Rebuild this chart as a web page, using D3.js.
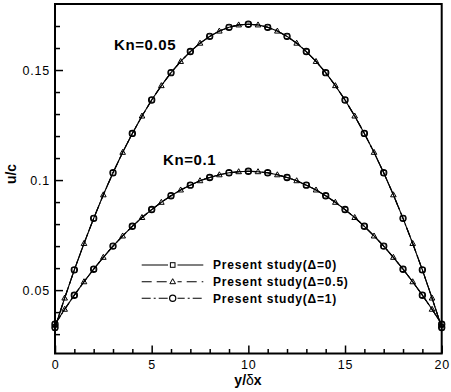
<!DOCTYPE html>
<html>
<head>
<meta charset="utf-8">
<script src="https://cdn.jsdelivr.net/npm/d3@7"></script>
<style>
  body { margin: 0; background: #fff; }
  svg { display: block; font-family: "Liberation Sans", Arial, sans-serif; }
</style>
</head>
<body>
<script>
// y/dx positions, half-unit steps
let yPos = [0, 0.5, 1, 1.5, 2, 2.5, 3, 3.5, 4, 4.5, 5, 5.5, 6, 6.5, 7, 7.5, 8, 8.5, 9, 9.5, 10,
  10.5, 11, 11.5, 12, 12.5, 13, 13.5, 14, 14.5, 15, 15.5, 16, 16.5, 17, 17.5, 18, 18.5, 19, 19.5, 20]

// u/c
let uKn005 = [0.0330, 0.0464, 0.0592, 0.0712, 0.0826, 0.0933, 0.1033, 0.1126, 0.1212, 0.1291, 0.1364,
  0.1429, 0.1488, 0.1539, 0.1584, 0.1622, 0.1653, 0.1677, 0.1694, 0.1705, 0.1708,
  0.1705, 0.1694, 0.1677, 0.1653, 0.1622, 0.1584, 0.1539, 0.1488, 0.1429, 0.1364,
  0.1291, 0.1212, 0.1126, 0.1033, 0.0933, 0.0826, 0.0712, 0.0592, 0.0464, 0.0330]
let uKn01 = [0.0345, 0.0413, 0.0477, 0.0538, 0.0595, 0.0649, 0.0700, 0.0746, 0.0790, 0.0830, 0.0866,
  0.0899, 0.0929, 0.0955, 0.0977, 0.0997, 0.1012, 0.1024, 0.1033, 0.1038, 0.1040,
  0.1038, 0.1033, 0.1024, 0.1012, 0.0997, 0.0977, 0.0955, 0.0929, 0.0899, 0.0866,
  0.0830, 0.0790, 0.0746, 0.0700, 0.0649, 0.0595, 0.0538, 0.0477, 0.0413, 0.0345]

let curveNames = ['Kn=0.05', 'Kn=0.1']
let legendNames = ['Present study(\u0394=0)', 'Present study(\u0394=0.5)', 'Present study(\u0394=1)']
let xMajorTicks = [0, 5, 10, 15, 20]
let xMinorTicks = [1, 2, 3, 4, 6, 7, 8, 9, 11, 12, 13, 14, 16, 17, 18, 19]
let yMajorTicks = [0.05, 0.1, 0.15]
let yMinorTicks = [0.03, 0.04, 0.06, 0.07, 0.08, 0.09, 0.11, 0.12, 0.13, 0.14, 0.16, 0.17]

let width = 451, height = 392
let plotLeft = 55, plotRight = 441.7, plotTop = 4, plotBottom = 353.5

let svg = d3.select('body').append('svg')
  .attr('width', width)
  .attr('height', height)

let x = d3.scaleLinear().domain([0, 20]).range([plotLeft, plotRight])
let y = d3.scaleLinear().domain([0.0212, 0.18]).range([plotBottom, plotTop])

// ticks (inward)
svg.append('g').attr('transform', `translate(0,${plotBottom})`)
  .call(d3.axisBottom(x).tickValues(xMajorTicks).tickSizeInner(-8).tickSizeOuter(0).tickPadding(6.5).tickFormat(d3.format('d')))
svg.append('g').attr('transform', `translate(0,${plotBottom})`)
  .call(d3.axisBottom(x).tickValues(xMinorTicks).tickSizeInner(-4.5).tickSizeOuter(0).tickFormat(''))
svg.append('g').attr('transform', `translate(${plotLeft},0)`)
  .call(d3.axisLeft(y).tickValues(yMajorTicks).tickSizeInner(-8).tickSizeOuter(0).tickPadding(5).tickFormat(d3.format('')))
svg.append('g').attr('transform', `translate(${plotLeft},0)`)
  .call(d3.axisLeft(y).tickValues(yMinorTicks).tickSizeInner(-5).tickSizeOuter(0).tickFormat(''))

svg.selectAll('.domain').remove()
svg.selectAll('.tick line').attr('stroke', '#000').attr('stroke-width', 1.5)
svg.selectAll('.tick text')
  .attr('fill', '#000')
  .style('font-size', '12.5px')
  .style('letter-spacing', '0.8px')
  .style('font-family', '"Liberation Sans", Arial, sans-serif')

// frame
svg.append('rect')
  .attr('x', plotLeft).attr('y', plotTop)
  .attr('width', plotRight - plotLeft).attr('height', plotBottom - plotTop)
  .attr('fill', 'none')
  .attr('stroke', '#000')
  .attr('stroke-width', 2)

// axis titles
svg.append('text')
  .attr('x', 248).attr('y', 385)
  .attr('text-anchor', 'middle')
  .style('font-size', '14px').style('font-weight', 'bold')
  .html('y/<tspan font-weight="normal">\u03b4</tspan>x')

svg.append('text')
  .attr('transform', 'translate(16,174) rotate(-90)')
  .attr('text-anchor', 'middle')
  .style('font-size', '14px').style('font-weight', 'bold')
  .text('u/c')

let line = d3.line().x(d => x(d[0])).y(d => y(d[1]))
let dashes = [null, '10,5', '9,3,2,3']

let drawMarker = (g, kind, cx, cy) => {
  if (kind === 0) {
    g.append('rect').attr('x', cx - 2.3).attr('y', cy - 2.3).attr('width', 4.6).attr('height', 4.6)
      .attr('fill', 'none').attr('stroke', '#000').attr('stroke-width', 1)
  } else if (kind === 1) {
    g.append('path').attr('d', `M${cx},${cy - 3} L${cx + 2.8},${cy + 2} L${cx - 2.8},${cy + 2} Z`)
      .attr('fill', 'none').attr('stroke', '#000').attr('stroke-width', 1)
  } else {
    g.append('circle').attr('cx', cx).attr('cy', cy).attr('r', 3.1)
      .attr('fill', 'none').attr('stroke', '#000').attr('stroke-width', 1.2)
  }
}

// curves: three delta series, identical results
let plot = svg.append('g')
;[uKn005, uKn01].forEach(vals => {
  let pts = yPos.map((p, i) => [p, vals[i]])
  dashes.forEach(dash => {
    plot.append('path')
      .attr('d', line(pts))
      .attr('fill', 'none')
      .attr('stroke', '#000')
      .attr('stroke-width', 1.1)
      .attr('stroke-dasharray', dash)
  })
  pts.forEach(p => {
    if (Number.isInteger(p[0])) {
      drawMarker(plot, 0, x(p[0]), y(p[1]))
      drawMarker(plot, 2, x(p[0]), y(p[1]))
    } else {
      drawMarker(plot, 1, x(p[0]), y(p[1]))
    }
  })
})

// curve labels
svg.append('text').attr('x', 114).attr('y', 49.5)
  .style('font-size', '15px').style('font-weight', 'bold').style('letter-spacing', '0.6px')
  .text(curveNames[0])
svg.append('text').attr('x', 163).attr('y', 164.5)
  .style('font-size', '15px').style('font-weight', 'bold').style('letter-spacing', '0.6px')
  .text(curveNames[1])

// legend
let legendY = [265, 281.7, 298.3]
let legend = svg.append('g')
legendNames.forEach((name, k) => {
  let ly = legendY[k]
  legend.append('line')
    .attr('x1', 141.7).attr('x2', 203.3).attr('y1', ly).attr('y2', ly)
    .attr('stroke', '#000').attr('stroke-width', 1.1)
    .attr('stroke-dasharray', dashes[k])
  legend.append('rect').attr('x', 168).attr('y', ly - 4).attr('width', 9.5).attr('height', 8).attr('fill', '#fff')
  drawMarker(legend, k, 172.7, ly)
  legend.append('text')
    .attr('x', 213).attr('y', ly + 4.2)
    .style('font-size', '12px').style('font-weight', 'bold').style('letter-spacing', '0.8px')
    .text(name)
})
</script>
</body>
</html>
